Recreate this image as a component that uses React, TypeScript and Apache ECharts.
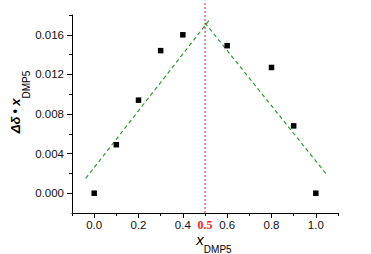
import React, { useEffect, useRef } from "react";
import * as echarts from "echarts";

const xPoints = [0.0, 0.1, 0.2, 0.3, 0.4, 0.6, 0.8, 0.9, 1.0];
const yPoints = [0.0, 0.0049, 0.0094, 0.0144, 0.016, 0.0149, 0.0127, 0.0068, 0.0];

const leftFit = [
  [-0.038, 0.0015],
  [0.52, 0.0175],
];
const rightFit = [
  [0.5, 0.0172],
  [1.045, 0.002],
];
const markerX = 0.5;
const markerY = [-0.002, 0.0192];

const xMajorTicks = [0, 0.2, 0.4, 0.6, 0.8, 1.0];
const xLabelValues = [0, 0.2, 0.4, 0.5, 0.6, 0.8, 1.0];
const xMinorTicks = [-0.1, 0.1, 0.3, 0.5, 0.7, 0.9, 1.1];
const yMajorTicks = [0, 0.004, 0.008, 0.012, 0.016];
const yMinorTicks = [0.002, 0.006, 0.01, 0.014, 0.018];

const FONT = "Liberation Sans, Arial, sans-serif";

export default function App() {
  const ref = useRef<HTMLDivElement>(null);

  useEffect(() => {
    document.body.style.margin = "0";
    if (!ref.current) return;
    const chart = echarts.init(ref.current, undefined, { renderer: "svg" });
    const gridBox = { left: 72, top: 15, width: 266, height: 198 };
    const axisColor = "#000";
    chart.setOption({
      animation: false,
      backgroundColor: "#fff",
      grid: [
        { ...gridBox, containLabel: false },
        { ...gridBox, containLabel: false },
      ],
      xAxis: [
        {
          type: "value",
          gridIndex: 0,
          min: -0.1,
          max: 1.1,
          axisLine: { show: true, onZero: false, lineStyle: { color: axisColor, width: 1 } },
          axisTick: {
            show: true,
            inside: false,
            length: 5,
            customValues: xMajorTicks,
            lineStyle: { color: axisColor },
          },
          axisLabel: {
            show: true,
            customValues: xLabelValues,
            margin: 6,
            color: "#111",
            fontSize: 11.5,
            fontFamily: FONT,
            formatter: (v: number) =>
              Math.abs(v - 0.5) < 1e-9 ? "{r|0.5}" : v.toFixed(1),
            rich: {
              r: {
                color: "#ff1a1a",
                fontWeight: "bold",
                fontFamily: "Liberation Serif, Times New Roman, serif",
                fontSize: 12,
                padding: [0, 0, 3, 0],
              },
            },
          },
          splitLine: { show: false },
        },
        {
          type: "value",
          gridIndex: 1,
          min: -0.1,
          max: 1.1,
          axisLine: { show: false, onZero: false },
          axisTick: {
            show: true,
            inside: false,
            length: 3,
            customValues: xMinorTicks,
            lineStyle: { color: axisColor },
          },
          axisLabel: { show: false },
          splitLine: { show: false },
        },
      ],
      yAxis: [
        {
          type: "value",
          gridIndex: 0,
          min: -0.002,
          max: 0.018,
          axisLine: { show: true, onZero: false, lineStyle: { color: axisColor, width: 1 } },
          axisTick: {
            show: true,
            inside: false,
            length: 5,
            customValues: yMajorTicks,
            lineStyle: { color: axisColor },
          },
          axisLabel: {
            show: true,
            customValues: yMajorTicks,
            margin: 8,
            color: "#111",
            fontSize: 11.5,
            fontFamily: FONT,
            formatter: (v: number) => v.toFixed(3),
          },
          splitLine: { show: false },
        },
        {
          type: "value",
          gridIndex: 1,
          min: -0.002,
          max: 0.018,
          axisLine: { show: false, onZero: false },
          axisTick: {
            show: true,
            inside: false,
            length: 3,
            customValues: yMinorTicks,
            lineStyle: { color: axisColor },
          },
          axisLabel: { show: false },
          splitLine: { show: false },
        },
      ],
      series: [
        {
          type: "line",
          xAxisIndex: 0,
          yAxisIndex: 0,
          data: leftFit,
          symbol: "none",
          lineStyle: { color: "#2f9a2f", width: 1.2, type: [4, 3] },
          z: 2,
        },
        {
          type: "line",
          xAxisIndex: 0,
          yAxisIndex: 0,
          data: rightFit,
          symbol: "none",
          lineStyle: { color: "#2f9a2f", width: 1.2, type: [4, 3] },
          z: 2,
        },
        {
          type: "line",
          xAxisIndex: 0,
          yAxisIndex: 0,
          data: markerY.map((y) => [markerX, y]),
          symbol: "none",
          clip: false,
          lineStyle: { color: "#e82020", width: 1, type: [2, 2] },
          z: 3,
        },
        {
          type: "scatter",
          xAxisIndex: 0,
          yAxisIndex: 0,
          data: xPoints.map((x, i) => [x, yPoints[i]]),
          symbol: "rect",
          symbolSize: 5.5,
          itemStyle: { color: "#000", opacity: 1 },
          z: 4,
        },
      ],
      graphic: [
        {
          type: "text",
          x: 20,
          y: 102,
          rotation: Math.PI / 2,
          style: {
            text: "{a|Δδ}{b| • }{a|x}{s|DMP5}",
            align: "center",
            verticalAlign: "middle",
            fill: "#000",
            rich: {
              a: {
                fontSize: 13,
                fontWeight: "bold",
                fontStyle: "italic",
                fontFamily: FONT,
                lineHeight: 15,
                verticalAlign: "top",
                fill: "#000",
              },
              b: {
                fontSize: 12,
                fontWeight: "bold",
                fontFamily: FONT,
                lineHeight: 15,
                verticalAlign: "top",
                fill: "#000",
              },
              s: {
                fontSize: 10,
                fontFamily: FONT,
                lineHeight: 22,
                verticalAlign: "bottom",
                fill: "#000",
              },
            },
          },
        },
        {
          type: "text",
          x: 214,
          y: 243,
          style: {
            text: "{a|x}{s|DMP5}",
            align: "center",
            verticalAlign: "middle",
            fill: "#000",
            rich: {
              a: {
                fontSize: 15,
                fontStyle: "italic",
                fontFamily: FONT,
                lineHeight: 16,
                verticalAlign: "top",
                fill: "#000",
              },
              s: {
                fontSize: 10,
                fontFamily: FONT,
                lineHeight: 22,
                verticalAlign: "bottom",
                fill: "#000",
              },
            },
          },
        },
      ],
    });
    return () => chart.dispose();
  }, []);

  return <div ref={ref} style={{ width: 371, height: 254 }} />;
}
